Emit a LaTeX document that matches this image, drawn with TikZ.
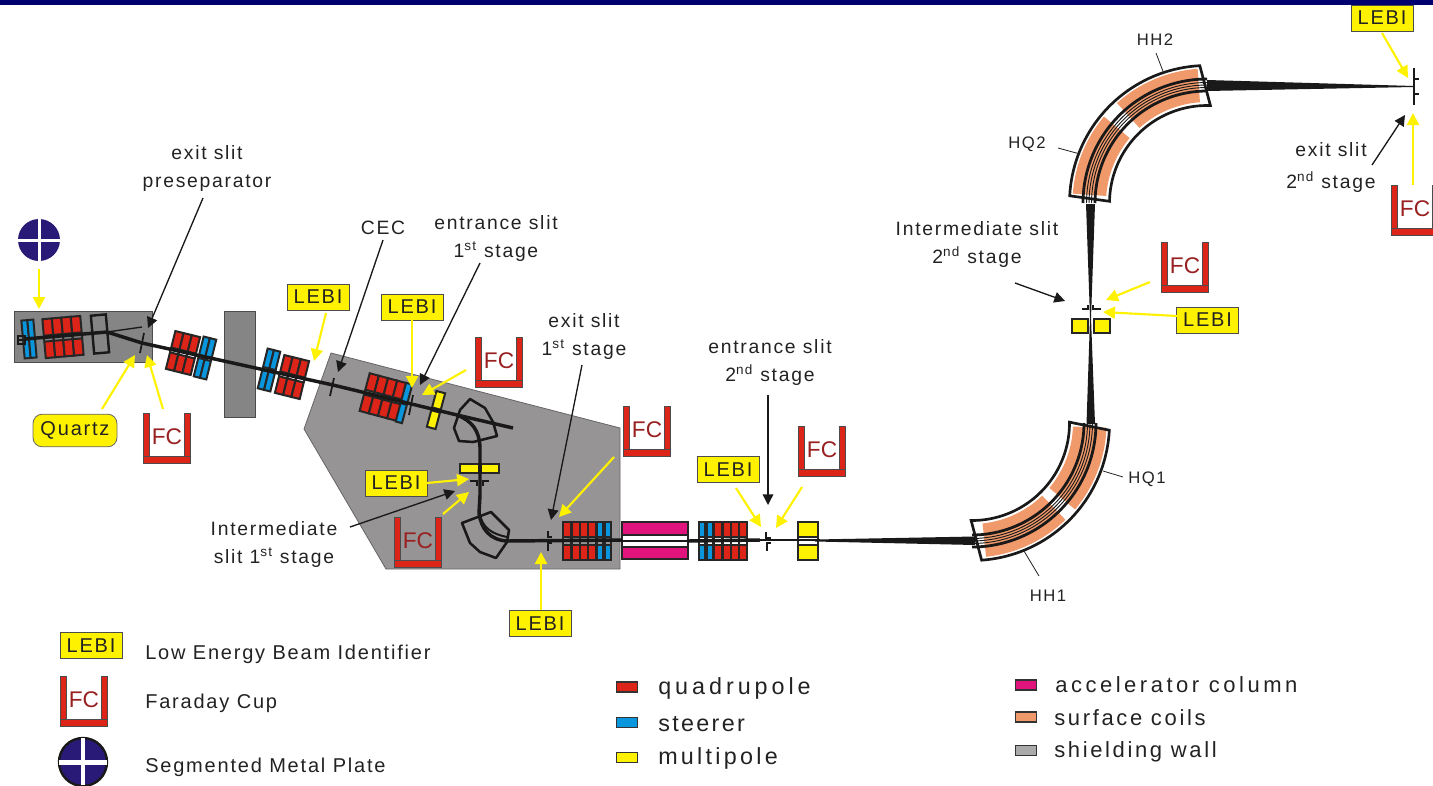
\documentclass[tikz,border=0pt]{standalone}
\usepackage{fontspec}
\setmainfont{Liberation Sans}
\newfontfamily\lblfont[LetterSpace=9]{Liberation Sans}
\newfontfamily\bigfont[LetterSpace=14]{Liberation Sans}
\newfontfamily\quadfont[LetterSpace=17]{Liberation Sans}
\newfontfamily\steerfont[LetterSpace=10]{Liberation Sans}
\newfontfamily\midfont[LetterSpace=12]{Liberation Sans}
\newfontfamily\accfont[LetterSpace=16]{Liberation Sans}
\usetikzlibrary{arrows.meta}
\definecolor{navybar}{HTML}{00006E}
\definecolor{platenavy}{HTML}{2A1A78}
\definecolor{wallgrey}{HTML}{858585}
\definecolor{hallgrey}{HTML}{969494}
\definecolor{magred}{HTML}{DC2418}
\definecolor{magblue}{HTML}{0A96DC}
\definecolor{magyellow}{HTML}{FFF200}
\definecolor{magpink}{HTML}{E0147C}
\definecolor{coilorange}{HTML}{F0996A}
\definecolor{inkdark}{HTML}{222222}
\definecolor{fcred}{HTML}{982020}
\tikzset{
  x=0.75pt,y=-0.75pt,
  lbl/.style={font=\lblfont\fontsize{14.5}{21}\selectfont,text=inkdark,align=center,inner sep=0pt},
  tag/.style={font=\lblfont\fontsize{12.5}{14}\selectfont,text=inkdark,inner sep=0pt},
  leg/.style={font=\lblfont\fontsize{15}{17}\selectfont,text=inkdark,anchor=west,inner sep=0pt},
  legbig/.style={font=\bigfont\fontsize{17.5}{20}\selectfont,text=inkdark,anchor=west,inner sep=0pt},
  legquad/.style={font=\quadfont\fontsize{17.5}{20}\selectfont,text=inkdark,anchor=west,inner sep=0pt},
  legsteer/.style={font=\steerfont\fontsize{17.5}{20}\selectfont,text=inkdark,anchor=west,inner sep=0pt},
  legmid/.style={font=\midfont\fontsize{16.5}{20}\selectfont,text=inkdark,anchor=west,inner sep=0pt},
  legacc/.style={font=\accfont\fontsize{16.5}{20}\selectfont,text=inkdark,anchor=west,inner sep=0pt},
  lebibox/.style={draw=black!70,line width=0.7pt,fill=magyellow,minimum width=46.5pt,minimum height=19.5pt,inner sep=0pt,font=\lblfont\fontsize{15}{17}\selectfont,text=inkdark},
  quartzbox/.style={rounded corners=7pt,draw=black!60,line width=0.6pt,fill=magyellow,minimum width=63pt,minimum height=24.5pt,inner sep=0pt,font=\lblfont\fontsize{15}{17}\selectfont,text=inkdark},
  fcbox/.style={minimum width=35.25pt,minimum height=37.5pt,inner sep=0pt},
  yarrow/.style={draw=magyellow,line width=1.6pt,-{Triangle[length=9pt,width=9pt,fill=magyellow]}},
  karrow/.style={draw=black!90,line width=1pt,-{Triangle[length=8pt,width=8pt]}},
  leader/.style={draw=inkdark,line width=0.6pt},
  beamline/.style={draw=black!90,line width=2.6pt,line join=round},
  slit/.style={draw=black!90,line width=1.3pt},
  magline/.style={draw=black!85,line width=1.5pt},
  swatch/.style={draw=black!80,line width=0.8pt,minimum width=16pt,minimum height=7.5pt,inner sep=0pt},
}
% magnet block: centre x,y, rotation, columns, col width, row height, mid gap, colour
\newcommand{\Mag}[8]{%
  \begin{scope}[shift={(#1,#2)},rotate=#3]
    \foreach \cidx in {1,...,#4}{
      \filldraw[magline,fill=#8] ({(\cidx-1-#4/2)*#5},{-#7/2-#6}) rectangle ({(\cidx-#4/2)*#5},{-#7/2});
      \filldraw[magline,fill=#8] ({(\cidx-1-#4/2)*#5},{#7/2}) rectangle ({(\cidx-#4/2)*#5},{#7/2+#6});
      \draw[magline] ({(\cidx-1-#4/2)*#5},{-#7/2}) -- ({(\cidx-1-#4/2)*#5},{#7/2});
      \draw[magline] ({(\cidx-#4/2)*#5},{-#7/2}) -- ({(\cidx-#4/2)*#5},{#7/2});
    }
  \end{scope}}
% Faraday cup: name, top-left corner
\newcommand{\FaradayCup}[3]{%
  \node[fcbox] (#1) at (#2+23.5,#3+25) {};
  \filldraw[draw=black!70,line width=0.5pt,fill=magred] (#2,#3) rectangle (#2+6,#3+43);
  \filldraw[draw=black!70,line width=0.5pt,fill=magred] (#2+41,#3) rectangle (#2+47,#3+43);
  \filldraw[draw=black!70,line width=0.5pt,fill=magred] (#2,#3+43) rectangle (#2+47,#3+50);
  \node[inner sep=0pt,font=\fontsize{17}{19}\selectfont,text=fcred] at (#2+24,#3+24) {FC};}
% coil sector: cx cy r0 r1 a0 a1
\newcommand{\CoilSector}[6]{%
  \fill[coilorange] plot[domain=#5:#6,samples=40] ({#1+#3*cos(\x)},{#2+#3*sin(\x)}) -- plot[domain=#6:#5,samples=40] ({#1+#4*cos(\x)},{#2+#4*sin(\x)}) -- cycle;}
\newcommand{\CoilMagnet}[6]{%
  \CoilSector{#1}{#2}{101}{134.5}{#3}{#4}
  \CoilSector{#1}{#2}{101}{134.5}{#5}{#6}}
\newcommand{\CoilFrame}[6]{% cx cy inner a b, outer a b
  \draw[black!90,line width=2pt,line join=miter] plot[domain=#3:#4,samples=40] ({#1+97.5*cos(\x)},{#2+97.5*sin(\x)}) -- plot[domain=#6:#5,samples=40] ({#1+137.5*cos(\x)},{#2+137.5*sin(\x)}) -- cycle;}
\newcommand{\CoilBeam}[4]{% cx cy a b
  \foreach \rr/\lw in {112/2.1,124/2.1,115.5/0.7,118/0.7,120.5/0.7}{
    \draw[black!90,line width=\lw pt] plot[domain=#3:#4,samples=40] ({#1+\rr*cos(\x)},{#2+\rr*sin(\x)});}}
\begin{document}
\begin{tikzpicture}
\useasboundingbox (0,0) rectangle (1433,785);
\fill[navybar] (0,0) rectangle (1433,5);

% shielding and vault
\filldraw[draw=black!70,line width=0.7pt,fill=wallgrey] (14,311) rectangle (152,362);
\filldraw[draw=black!70,line width=0.7pt,fill=wallgrey] (224,311) rectangle (255,417);
\filldraw[draw=black!60,line width=0.6pt,fill=hallgrey] (331,353) -- (620,428) -- (620,569) -- (386,569) -- (304,429) -- cycle;

% first-section magnets
\Mag{29}{339}{5}{2}{6}{19}{0}{magblue}
\Mag{63}{337}{5}{4}{9.5}{16.5}{6}{magred}
\draw[black!90,line width=1.8pt,rotate around={5:(100,334)}] (92.5,315) rectangle (107.5,353);
\draw[black!90,line width=0.8pt] (18,336) rectangle (25,344);
\Mag{183}{353}{-14}{3}{8.5}{17}{5}{magred}
\Mag{205}{358}{-14}{2}{6.5}{19}{3}{magblue}
\Mag{269}{370}{-14}{2}{6.5}{19}{3}{magblue}
\Mag{292}{377}{-14}{3}{8.5}{17}{5}{magred}
\Mag{383}{397}{-15}{4}{9.5}{17}{5}{magred}
\Mag{404}{403}{-15}{1}{6.5}{19}{2}{magblue}
\Mag{436}{410}{-15}{1}{9}{17}{3}{magyellow}

% dipoles of the first stage
\draw[black!90,line width=1.9pt,line join=round] (470,399) -- (485,408) -- (493,422) -- (497,436) -- (473,442) -- (459,441) -- (454,428) -- (460,410) -- cycle;
\draw[black!90,line width=1.9pt,line join=round] (462,523) -- (491,512) -- (509,530) -- (507,542) -- (496,558) -- (480,552) -- (470,543) -- cycle;

% multipole between dipoles
\filldraw[magline,fill=magyellow] (460,464) rectangle (479,473);
\filldraw[magline,fill=magyellow] (481,464) rectangle (499,473);

% quads and column
\foreach \qx in {567,576,584,592}{\Mag{\qx}{541}{0}{1}{8.5}{15}{8}{magred}}
\foreach \qx in {600,608}{\Mag{\qx}{541}{0}{1}{6.5}{15}{8}{magblue}}
\filldraw[magline,fill=magpink] (622,522) rectangle (688,535);
\filldraw[magline,fill=magpink] (622,547) rectangle (688,559);
\draw[magline] (622,535) rectangle (688,547);
\foreach \qx in {702,710}{\Mag{\qx}{541}{0}{1}{6.5}{15}{8}{magblue}}
\foreach \qx in {718,727,735,743}{\Mag{\qx}{541}{0}{1}{8.5}{15}{8}{magred}}
\Mag{808}{541}{0}{1}{20}{15}{8}{magyellow}

% multipole, second stage
\filldraw[magline,fill=magyellow] (1072,319) rectangle (1088,333);
\filldraw[magline,fill=magyellow] (1094,319) rectangle (1110,333);

% bending magnets
\CoilMagnet{972}{423}{2}{40}{46}{84}
\CoilFrame{972}{423}{-0.5}{90.5}{3}{86}
\CoilBeam{972}{423}{0}{90}
\CoilMagnet{1207}{203}{184}{220}{228}{266}
\CoilFrame{1207}{203}{181}{272}{183}{267}
\CoilBeam{1207}{203}{180}{270}

% beam
\draw[black!90,line width=1.1pt] (18,340) -- (25,340);
\draw[beamline] (25,339) -- (107,332) -- (142,343) -- (333,385) -- (457,415) -- (513,428);
\draw[black!90,line width=1pt] (107,332) -- (142,327);
\draw[beamline] (457,415) .. controls (472,421) and (479,430) .. (480,447) -- (480,495) -- (479,513) .. controls (481,529) and (490,540) .. (507,541) -- (622,540);
\draw[black!90,line width=1.5pt] (480,515) .. controls (483,528) and (492,534) .. (507,537);
\draw[beamline] (688,541) -- (760,540);
\draw[black!90,line width=1.2pt] (622,541) -- (688,541);
\draw[black!90,line width=1pt] (760,540) -- (820,540);
\fill[black!90] (815,539.5) -- (975,536.5) -- (975,545) -- (815,541.5) -- cycle;
\fill[black!90] (1086.5,424) -- (1095,424) -- (1091,318) -- (1090,318) -- cycle;
\fill[black!90] (1086,204) -- (1095,204) -- (1091,318) -- (1090,318) -- cycle;
\fill[black!90] (1207,80) -- (1207,91) -- (1414,87) -- (1414,86) -- cycle;

% slits
\draw[slit] (144,333) -- (140,353);
\draw[slit] (334,378) -- (330,396);
\draw[slit] (413,395) -- (409,415);
\draw[slit] (470,481) -- (477,481) -- (477,486);
\draw[slit] (489,481) -- (483,481) -- (483,486);
\draw[slit] (548,531) -- (548,537) -- (552,537);
\draw[slit] (552,543) -- (548,543) -- (548,551);
\draw[slit] (766,532) -- (766,538) -- (771,538);
\draw[slit] (771,543) -- (767,543) -- (767,551);
\draw[slit] (1082,309) -- (1088,309) -- (1088,305);
\draw[slit] (1101,309) -- (1093,309) -- (1093,305);
\draw[slit] (1414,68) -- (1414,105);
\draw[slit] (1414,79) -- (1419,79);
\draw[slit] (1414,94) -- (1419,94);

% segmented plates
\node[circle,fill=platenavy,minimum size=31.5pt,inner sep=0pt] (plateA) at (39,240) {};
\fill[white] (17,239) rectangle (61,242);
\fill[white] (37.5,218) rectangle (40.5,262);
\node[circle,draw=black!90,line width=1.8pt,fill=platenavy,minimum size=36pt,inner sep=0pt] (plateL) at (83,762) {};
\fill[white] (59,759.5) rectangle (107,765);
\fill[white] (81,738) rectangle (85,785);

% Faraday cups
\FaradayCup{fcA}{143}{413}
\FaradayCup{fcB}{475}{337}
\FaradayCup{fcC}{623}{406}
\FaradayCup{fcD}{798}{426}
\FaradayCup{fcE}{394}{517}
\FaradayCup{fcF}{1161}{242}
\FaradayCup{fcG}{1391}{185}
\FaradayCup{fcL}{60}{676}

% LEBI boxes
\node[lebibox] (lebiA) at (318,297) {LEBI};
\node[lebibox] (lebiB) at (412,307) {LEBI};
\node[lebibox] (lebiC) at (396,483) {LEBI};
\node[lebibox] (lebiD) at (728,469.5) {LEBI};
\node[lebibox] (lebiE) at (540,623.5) {LEBI};
\node[lebibox] (lebiF) at (1207.5,320) {LEBI};
\node[lebibox] (lebiG) at (1382,18) {LEBI};
\node[lebibox] (lebiL) at (91,645.5) {LEBI};
\node[quartzbox] (quartz) at (75,430.5) {Quartz};

% arrow targets
\coordinate (tPlate) at (39,309);
\coordinate (tQuartz) at (135,355);
\coordinate (tFcA) at (147,355);
\coordinate (tLebiA) at (314,361);
\coordinate (tLebiB) at (412,388);
\coordinate (tFcB) at (422,395);
\coordinate (tLebiC) at (469,479);
\coordinate (tFcE) at (469,492);
\coordinate (tFcC) at (559,517);
\coordinate (tLebiE) at (541,552);
\coordinate (tLebiD) at (761,527);
\coordinate (tFcD) at (776,528);
\coordinate (tFcF) at (1106,300);
\coordinate (tLebiF) at (1103,312);
\coordinate (tLebiG) at (1408,78);
\coordinate (tFcG) at (1413,113);
\coordinate (sQuartz) at (102,409);
\coordinate (sFcA) at (163,409);
\coordinate (sFcB) at (466,370);
\coordinate (sLebiC) at (427,483);
\coordinate (sFcE) at (443,514);
\coordinate (sFcC) at (614,457);
\coordinate (sLebiD) at (736,488);
\coordinate (sFcD) at (802,487);
\coordinate (sFcF) at (1150,282);
\coordinate (sLebiF) at (1177,316);
\coordinate (sLebiG) at (1382,33);
\coordinate (sLebiA) at (326,313);
\coordinate (sLebiE) at (541,610);
\coordinate (sLebiB) at (412,320);
\coordinate (sFcG) at (1413,185);
\coordinate (sPlate) at (39,269);

% yellow arrows
\foreach \aa/\bb in {sPlate/tPlate,sQuartz/tQuartz,sFcA/tFcA,sLebiA/tLebiA,sLebiB/tLebiB,sFcB/tFcB,sLebiC/tLebiC,sFcE/tFcE,sFcC/tFcC,sLebiE/tLebiE,sLebiD/tLebiD,sFcD/tFcD,sFcF/tFcF,sLebiF/tLebiF,sLebiG/tLebiG,sFcG/tFcG}{
  \draw[yarrow] (\aa) -- (\bb);}

% labels
\node[lbl] (lExitPre) at (207,168) {exit slit\\preseparator};
\node[lbl] (lCEC) at (383,228) {CEC};
\node[lbl] (lEntA) at (496,238) {entrance slit\\1\textsuperscript{st} stage};
\node[lbl] (lExitA) at (584,336) {exit slit\\1\textsuperscript{st} stage};
\node[lbl] (lEntB) at (770,362) {entrance slit\\2\textsuperscript{nd} stage};
\node[lbl] (lIntA) at (274,544) {Intermediate\\slit 1\textsuperscript{st} stage};
\node[lbl] (lIntB) at (977,244) {Intermediate slit\\2\textsuperscript{nd} stage};
\node[lbl] (lExitB) at (1331,167) {exit slit\\[3pt]2\textsuperscript{nd} stage};
\node[tag] (lHH2) at (1155,40) {HH2};
\node[tag] (lHQ2) at (1027,144) {HQ2};
\node[tag] (lHQ1) at (1147,479) {HQ1};
\node[tag] (lHH1) at (1048,596) {HH1};

% black arrows
\coordinate (kExitPre) at (148,328);
\coordinate (kCEC) at (338,372);
\coordinate (kEntA) at (420,385);
\coordinate (kExitA) at (551,520);
\coordinate (kIntA) at (455,491);
\coordinate (kEntB) at (768,505);
\coordinate (kIntB) at (1065,301);
\coordinate (kExitB) at (1405,115);
\coordinate (bExitPre) at (203,198);
\coordinate (bCEC) at (383,240);
\coordinate (bEntA) at (480,263);
\coordinate (bExitA) at (582,365);
\coordinate (bIntA) at (350,527);
\coordinate (bEntB) at (768,395);
\coordinate (bIntB) at (1015,283);
\coordinate (bExitB) at (1372,165);
\foreach \aa/\bb in {bExitPre/kExitPre,bCEC/kCEC,bEntA/kEntA,bExitA/kExitA,bIntA/kIntA,bEntB/kEntB,bIntB/kIntB,bExitB/kExitB}{
  \draw[karrow] (\aa) -- (\bb);}

% magnet leaders
\coordinate (mHQ1) at (1103,471);
\coordinate (mHH1) at (1024,551);
\coordinate (mHQ2) at (1080,154);
\coordinate (mHH2) at (1164,74);
\coordinate (eHQ1) at (1123,477);
\coordinate (eHH1) at (1039,576);
\coordinate (eHQ2) at (1058,148);
\coordinate (eHH2) at (1156,53);
\draw[leader] (eHQ1) -- (mHQ1);
\draw[leader] (eHH1) -- (mHH1);
\draw[leader] (eHQ2) -- (mHQ2);
\draw[leader] (eHH2) -- (mHH2);

% legend
\node[leg] (tLEBI) at (145,654) {Low Energy Beam Identifier};
\node[leg] (tFC) at (145,703) {Faraday Cup};
\node[leg] (tSeg) at (145,767) {Segmented Metal Plate};
\node[swatch,fill=magred] (sRed) at (627,687) {};
\node[swatch,fill=magblue] (sBlue) at (627,722.5) {};
\node[swatch,fill=magyellow] (sYel) at (627,757.5) {};
\node[swatch,fill=magpink] (sPink) at (1026,685) {};
\node[swatch,fill=coilorange] (sOrange) at (1026,717) {};
\node[swatch,fill=wallgrey!70] (sGrey) at (1026,750.5) {};
\node[legquad] (tQ) at (658,688) {quadrupole};
\node[legsteer] (tS) at (658,724) {steerer};
\node[legbig] (tM) at (658,758) {multipole};
\node[legacc] (tA) at (1055,685) {accelerator column};
\node[legmid] (tC) at (1054,718) {surface coils};
\node[legmid] (tW) at (1054,752) {shielding wall};
\end{tikzpicture}
\end{document}
